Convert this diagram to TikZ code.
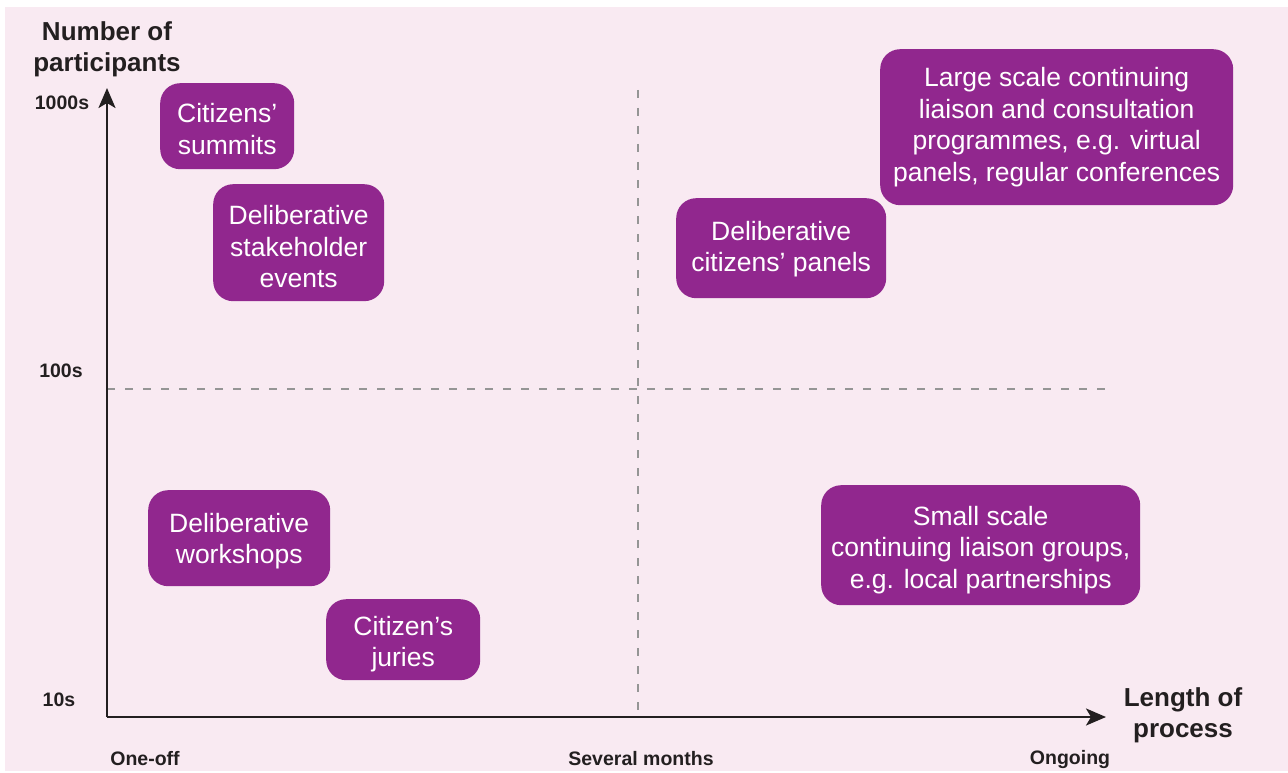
\documentclass[tikz,border=0pt]{standalone}
\usepackage{fontspec}
\setmainfont{Liberation Sans}
\usetikzlibrary{arrows.meta}
\definecolor{bgpink}{HTML}{F9EAF2}
\definecolor{boxpurple}{HTML}{91278E}
\definecolor{axisdark}{HTML}{231F20}
\definecolor{dashgray}{HTML}{959595}
\newcommand{\topgap}[1]{\rule{0pt}{#1}}
\tikzset{
  pbox/.style={fill=boxpurple, rounded corners=20pt, text=white, align=center,
    font=\fontsize{26.5}{31.7}\selectfont, inner sep=0pt, anchor=north west},
  axislbl/.style={font=\fontsize{26}{31}\selectfont\bfseries, text=axisdark, align=center},
  ticklbl/.style={font=\fontsize{19.5}{22}\selectfont\bfseries, text=axisdark},
  axisline/.style={draw=axisdark, line width=2.4pt, -{Stealth[length=20pt,width=17pt,inset=5pt]}},
  guide/.style={draw=dashgray, line width=2.2pt, dash pattern=on 8pt off 10pt},
}
\begin{document}
\begin{tikzpicture}[x=1pt,y=-1pt]
\useasboundingbox (0,0) rectangle (1288,773);
\fill[bgpink] (5,7) rectangle (1288,771);

% guides
\coordinate (hg1) at (107,389);
\coordinate (hg2) at (1108,389);
\coordinate (vg1) at (638,90);
\coordinate (vg2) at (638,717);
\draw[guide] (hg1) -- (hg2);
\draw[guide] (vg1) -- (vg2);

% axes
\coordinate (O) at (107,717);
\coordinate (ytop) at (107,88);
\coordinate (xend) at (1106,717);
\draw[axisline] (O) -- (ytop);
\draw[axisline] (O) -- (xend);

% axis titles
\node[axislbl] (ytitle) at (107,49) {Number of\\participants};
\node[axislbl] (xtitle) at (1183,715) {Length of\\process};

% tick labels
\node[ticklbl] (t1000) at (62,103) {1000s};
\node[ticklbl] (t100) at (61,371) {100s};
\node[ticklbl] (t10) at (59,700) {10s};
\node[ticklbl] (xone) at (145,759) {One-off};
\node[ticklbl] (xsev) at (641,759) {Several months};
\node[ticklbl] (xong) at (1070,759) {Ongoing};

% boxes
\node[pbox, minimum width=134pt, minimum height=86pt] (summits) at (160,83) {\topgap{25pt}Citizens’\\summits};
\node[pbox, minimum width=171pt, minimum height=117pt] (stake) at (213,184) {\topgap{27pt}Deliberative\\stakeholder\\events};
\node[pbox, minimum width=210pt, minimum height=100pt] (panels) at (676,198) {\topgap{21pt}Deliberative\\citizens’ panels};
\node[pbox, minimum width=353pt, minimum height=156pt] (large) at (880,49) {Large scale continuing\\liaison and consultation\\programmes, e.g. virtual\\panels, regular conferences};
\node[pbox, minimum width=182pt, minimum height=96pt] (workshops) at (148,490) {\topgap{25pt}Deliberative\\workshops};
\node[pbox, minimum width=154pt, minimum height=81pt] (juries) at (326,599) {\topgap{28pt}Citizen’s\\juries};
\node[pbox, minimum width=319pt, minimum height=120pt] (small) at (821,485) {\topgap{29pt}Small scale\\continuing liaison groups,\\e.g. local partnerships};
\end{tikzpicture}
\end{document}
